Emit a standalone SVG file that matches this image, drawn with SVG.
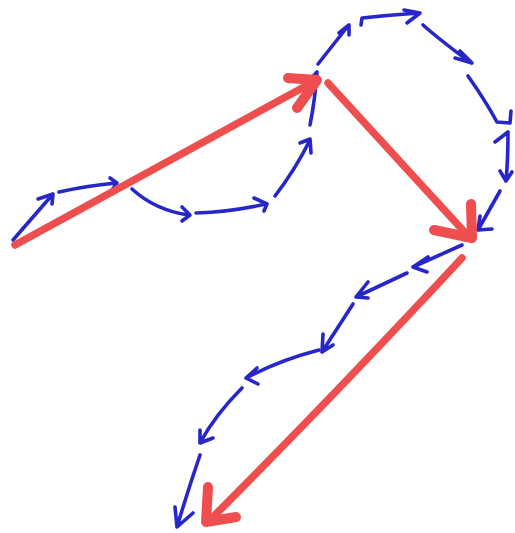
<svg xmlns="http://www.w3.org/2000/svg" width="515" height="533" viewBox="0 0 515 533">
<style>
.b{fill:none;stroke:#2727c9;stroke-width:3.6;stroke-linecap:round;stroke-linejoin:round}
.r{fill:none;stroke:#ef4e4e;stroke-width:7.5;stroke-linecap:round;stroke-linejoin:round}
.rh{fill:none;stroke:#ef4e4e;stroke-width:10;stroke-linecap:round;stroke-linejoin:round}
</style>
<rect width="515" height="533" fill="#fff"/>
<g id="blue-chain">
<path class="b" d="M13,240 L53,194 M38,199 L53,194 L52,204"/>
<path class="b" d="M59,192 Q85,186 116,183 M110,178 L117,183 L112,190"/>
<path class="b" d="M132,189 Q155,210 188,215 M182,207 L190,215 L182,221"/>
<path class="b" d="M196,213 Q230,212 266,204 M254,198 L267,204 L264,211"/>
<path class="b" d="M275,196 Q295,170 310,140 M300,143 L310,139 L311,153"/>
<path class="b" d="M310,125 Q315,100 317,72 M310,80 L317,72"/>
<path class="b" d="M318,64 L348,26 M339,33 L349,25 L349,35"/>
<path class="b" d="M361,25 L362,18 Q390,15 419,13 M404,10 L420,13 L407,23"/>
<path class="b" d="M423,25 Q440,40 471,63 M460,51 L472,63 L455,58"/>
<path class="b" d="M468,76 Q485,100 497,122 L510,123 L511,111"/>
<path class="b" d="M495,142 L508,132 Q508,160 506,181 M500,171 L506,181 L512,172"/>
<path class="b" d="M500,191 L478,230 M480,216 L478,230 L492,229"/>
<path class="b" d="M462,245 L413,267 M428,257 L413,267 L427,272"/>
<path class="b" d="M407,273 L356,297 M368,282 L356,297 L368,298"/>
<path class="b" d="M353,304 L322,352 M323,334 L322,352 L333,345"/>
<path class="b" d="M319,350 Q280,360 246,378 M257,368 L246,378 L258,384"/>
<path class="b" d="M242,388 Q215,415 200,443 M200,430 L200,443 L213,438"/>
<path class="b" d="M200,455 Q188,490 177,527 M175,507 L177,527 L193,513"/>
</g>
<g id="red-resultants">
<path class="r" d="M15,245 L315,81"/>
<path class="rh" d="M288,78 L317,80 L297,108"/>
<path class="r" d="M328,83 L470,238"/>
<path class="rh" d="M471,204 L472,238 L434,230"/>
<path class="r" d="M462,258 Q330,400 208,522"/>
<path class="rh" d="M208,487 L206,522 L236,517"/>
</g>
</svg>
